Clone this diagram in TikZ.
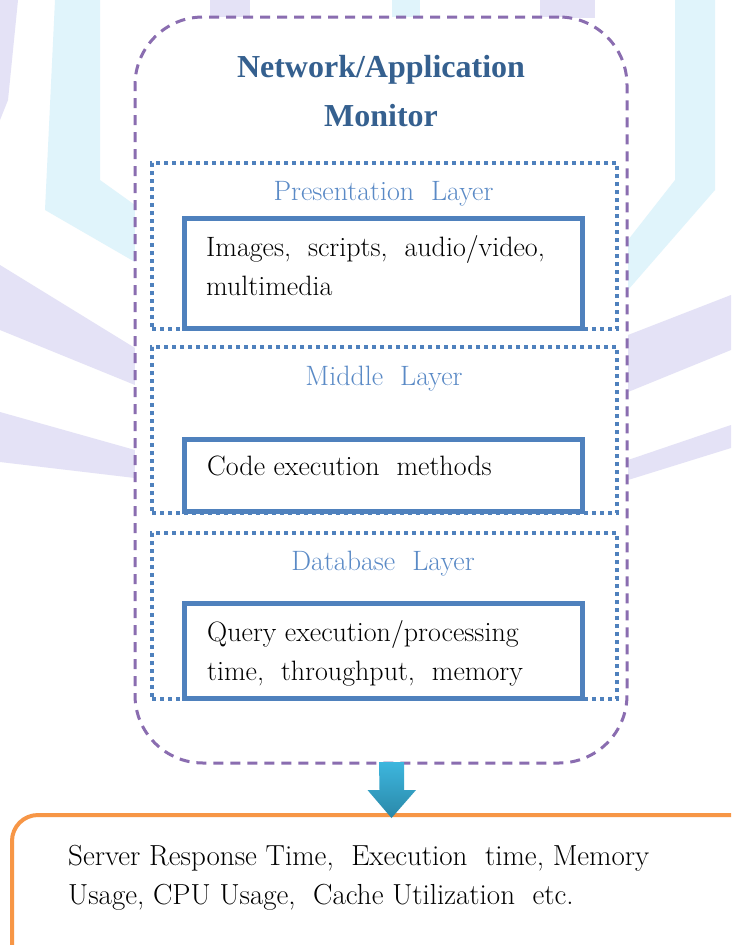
\documentclass[tikz,border=0pt]{standalone}
\usepackage{fontspec}
\newfontfamily\libser{Liberation Serif}
\definecolor{purp}{HTML}{8A6DB0}
\definecolor{accent}{HTML}{4F81BD}
\definecolor{titleblue}{HTML}{35608F}
\definecolor{labelblue}{HTML}{5A8AC6}
\definecolor{orng}{HTML}{F79646}
\definecolor{lav}{HTML}{E4E2F6}
\definecolor{cya}{HTML}{E0F4FB}
\definecolor{arrtop}{HTML}{3DB6DE}
\definecolor{arrbot}{HTML}{2A88A8}
\begin{document}
\begin{tikzpicture}[x=1pt,y=-1pt,
  purplebox/.style={draw=purp, line width=3pt, dash pattern=on 10pt off 7pt, fill=white,
    rounded corners=68pt, inner sep=0pt, outer sep=0pt, anchor=north west},
  layerbox/.style={draw=accent, line width=4pt, dash pattern=on 4pt off 4pt, fill=white,
    inner sep=0pt, outer sep=0pt, anchor=north west, minimum width=465pt, minimum height=166pt},
  itembox/.style={draw=accent, line width=5pt, fill=white, inner sep=0pt, outer sep=0pt,
    anchor=north west, minimum width=398pt},
  resultbox/.style={draw=orng, line width=4pt, fill=white, rounded corners=26pt,
    inner sep=0pt, outer sep=0pt, anchor=north west},
  titletext/.style={anchor=base, inner sep=0pt, text=titleblue, font=\libser\fontsize{32}{38}\selectfont\bfseries},
  labeltext/.style={anchor=base, inner sep=0pt, text=labelblue, font=\rmfamily\fontsize{28}{34}\selectfont},
  bodytext/.style={anchor=base west, inner sep=0pt, text=black, font=\rmfamily\fontsize{28}{34}\selectfont},
  resulttext/.style={anchor=base west, inner sep=0pt, text=black, font=\rmfamily\fontsize{29}{35}\selectfont}
]
\clip (0,0) rectangle (731,945);
\fill[white] (0,0) rectangle (731,945);
% faint background pattern
\fill[lav] (0,0) -- (18,0) -- (8,100) -- (0,120) -- cycle;
\fill[cya] (55,0) -- (100,0) -- (100,180) -- (135,205) -- (135,262) -- (45,210) -- cycle;
\fill[lav] (0,265) -- (135,348) -- (135,385) -- (0,330) -- cycle;
\fill[lav] (0,412) -- (135,450) -- (135,478) -- (0,462) -- cycle;
\fill[cya] (675,0) -- (715,0) -- (715,190) -- (628,290) -- (628,240) -- (675,180) -- cycle;
\fill[lav] (628,335) -- (731,295) -- (731,350) -- (628,392) -- cycle;
\fill[lav] (628,460) -- (731,425) -- (731,448) -- (628,480) -- cycle;
\fill[lav] (210,0) rectangle (250,18);
\fill[cya] (392,0) rectangle (420,18);
\fill[lav] (540,0) rectangle (595,18);

% main monitor container
\node[purplebox, minimum width=492pt, minimum height=746pt] (monitor) at (135,17) {};
\node[titletext] (title1) at (381,77) {Network/Application};
\node[titletext] (title2) at (381,126) {Monitor};

% layers
\node[layerbox] (layer1) at (152,163) {};
\node[layerbox] (layer2) at (152,347) {};
\node[layerbox] (layer3) at (152,533) {};

\node[labeltext] (lab1) at (383.5,200) {Presentation~ Layer};
\node[labeltext] (lab2) at (384,385) {Middle~ Layer};
\node[labeltext] (lab3) at (383,570) {Database~ Layer};

\node[itembox, minimum height=110pt] (box1) at (184,218) {};
\node[itembox, minimum height=72pt] (box2) at (184,439) {};
\node[itembox, minimum height=95pt] (box3) at (184,603) {};

\node[bodytext] (b1a) at (206,256) {Images,~ scripts,~ audio/video,};
\node[bodytext] (b1b) at (206,295) {multimedia};
\node[bodytext] (b2a) at (207,475) {Code execution~ methods};
\node[bodytext] (b3a) at (207,641) {Query execution/processing};
\node[bodytext] (b3b) at (207,680) {time,~ throughput,~ memory};

% result box
\node[resultbox, minimum width=800pt, minimum height=200pt] (result) at (12,815) {};
\node[resulttext] (r1) at (68,865) {Server Response Time,~ Execution~ time, Memory};
\node[resulttext] (r2) at (68,904) {Usage, CPU Usage,~ Cache Utilization~ etc.};

% block arrow from monitor to result
\coordinate (atop) at (391.5,762);
\coordinate (atip) at (391.5,818);
\shade[top color=arrtop, bottom color=arrbot]
  (atop) ++(-12.5,0) -- ++(25,0) -- ++(0,28) -- ++(12,0) -- (atip)
  -- ++(-24,-28) -- ++(12,0) -- cycle;
\end{tikzpicture}
\end{document}
